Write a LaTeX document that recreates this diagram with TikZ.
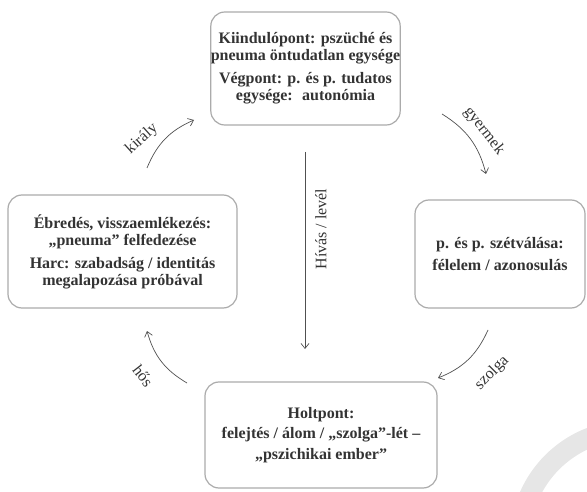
\documentclass[tikz,border=0pt]{standalone}
\usepackage{fontspec}
\setmainfont{Liberation Serif}
\usetikzlibrary{arrows.meta}
\definecolor{boxgray}{HTML}{ABABAB}
\definecolor{textgray}{HTML}{333333}
\definecolor{arrowgray}{HTML}{505050}
\definecolor{markgray}{HTML}{E6E6E6}
\tikzstyle{every node}=[font=\fontsize{16}{17}\selectfont, text=textgray]
\tikzstyle{stage}=[draw=boxgray, line width=1.2pt, rounded corners=14pt, align=center, inner sep=0pt, font=\bfseries\fontsize{16}{17}\selectfont]
\tikzstyle{cyc}=[draw=arrowgray, line width=0.7pt, -{Straight Barb[length=5pt,width=8pt]}]

\begin{document}
\begin{tikzpicture}[x=1pt,y=-1pt]
\useasboundingbox (0,0) rectangle (587,492);

% faint mark in the corner
\begin{scope}
\clip (0,0) rectangle (587,492);
\draw [markgray, line width=20pt] (630,540) circle (110);
\end{scope}

% the four stages
\node [stage, minimum width=185, minimum height=113] (start) at (305.5,68.5)
 {Kiindulópont: pszüché és\\ pneuma öntudatlan egysége\\[6pt] Végpont: p. és p. tudatos\\ egysége:~ autonómia};
\node [stage, minimum width=170, minimum height=108] (split) at (500,254)
 {p. és p. szétválása:\\[5pt] félelem / azonosulás};
\node [stage, minimum width=232, minimum height=106] (dead) at (321,435)
 {Holtpont:\\[3.5pt] felejtés / álom / „szolga”-lét –\\[3.5pt] „pszichikai ember”};
\node [stage, minimum width=229, minimum height=113] (wake) at (122.5,251.5)
 {Ébredés, visszaemlékezés:\\ „pneuma” felfedezése\\[6pt] Harc: szabadság / identitás\\ megalapozása próbával};

% call down the middle
\coordinate (callS) at (305,152);
\coordinate (callE) at (305,349);
\draw [cyc] (callS) -- (callE);
\node [rotate=90] (call) at (321,229) {Hívás / levél};

% the cycle
\coordinate (childS) at (442,114);
\coordinate (childE) at (486,174);
\coordinate (servS) at (488,330);
\coordinate (servE) at (438,378);
\coordinate (heroS) at (187,383);
\coordinate (heroE) at (147,331);
\coordinate (kingS) at (147,168);
\coordinate (kingE) at (194,120);

\draw [cyc] (childS) to[bend left=22] (childE);
\draw [cyc] (servS) to[bend left=22] (servE);
\draw [cyc] (heroS) to[bend left=22] (heroE);
\draw [cyc] (kingS) to[bend left=22] (kingE);

\node [rotate=-52] (child) at (484,131) {gyermek};
\node [rotate=45] (serv) at (492,373) {szolga};
\node [rotate=-52] (hero) at (143,376) {hős};
\node [rotate=42] (king) at (142,139) {király};
\end{tikzpicture}
\end{document}
